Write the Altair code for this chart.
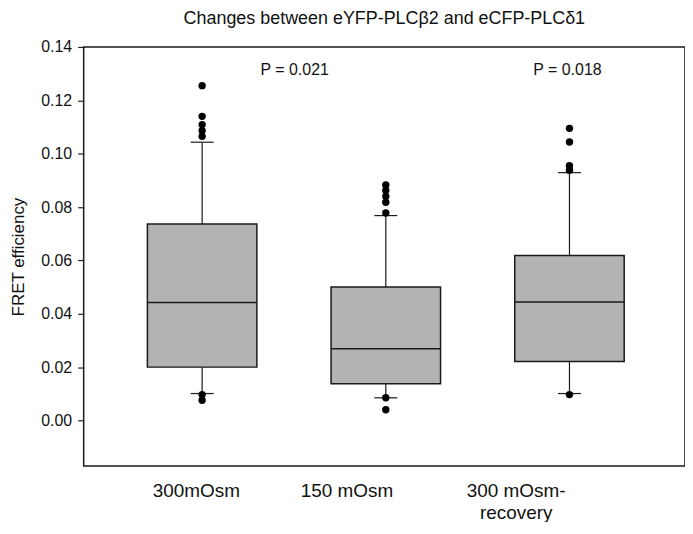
import altair as alt
import pandas as pd

# ---- data ----
categories = ["300mOsm", "150 mOsm", "300 mOsm-recovery"]
label_lines = [["300mOsm"], ["150 mOsm"], ["300 mOsm-", "recovery"]]
positions = [1, 2, 3]
lower_whisker = [0.0101, 0.0085, 0.0101]
q1 = [0.0200, 0.0138, 0.0221]
median = [0.0442, 0.0269, 0.0444]
q3 = [0.0736, 0.0500, 0.0618]
upper_whisker = [0.1043, 0.0768, 0.0929]

outlier_group = [1, 1, 1, 1, 1, 1, 1,
                 2, 2, 2, 2, 2, 2, 2,
                 3, 3, 3, 3, 3]
outlier_value = [0.1255, 0.1140, 0.1109, 0.1086, 0.1065, 0.0097, 0.0076,
                 0.0883, 0.0862, 0.0840, 0.0818, 0.0778, 0.0085, 0.0040,
                 0.1095, 0.1044, 0.0955, 0.0938, 0.0097]

p_text = ["P = 0.021", "P = 0.018"]
p_pos = [1.504, 2.989]
p_y = [0.1315, 0.1315]

label_pos = [0.966, 1.786, 2.707]
y_ticks = [0.0, 0.02, 0.04, 0.06, 0.08, 0.10, 0.12, 0.14]

# ---- layout constants ----
X_DOMAIN = [0.355, 3.629]
Y_DOMAIN = [-0.0171, 0.14]
HALF = 0.298
CAP = 0.0625
FONT = "Liberation Sans"
INK = "#1a1a1a"

box_df = pd.DataFrame({
    "category": categories, "pos": positions, "low": lower_whisker,
    "q1": q1, "median": median, "q3": q3, "high": upper_whisker,
})
out_df = pd.DataFrame({"pos": outlier_group, "value": outlier_value})
p_df = pd.DataFrame({"pos": p_pos, "y": p_y, "text": p_text})


def js_label(lines):
    if len(lines) == 1:
        return "'" + lines[0] + "'"
    return "[" + ", ".join("'" + s + "'" for s in lines) + "]"


label_expr = ("datum.value < 1.3 ? " + js_label(label_lines[0]) +
              " : datum.value < 2.3 ? " + js_label(label_lines[1]) +
              " : " + js_label(label_lines[2]))

xscale = alt.Scale(domain=X_DOMAIN, nice=False, zero=False)
yscale = alt.Scale(domain=Y_DOMAIN, nice=False, zero=False)

x_axis = alt.Axis(values=label_pos, labelExpr=label_expr, ticks=False,
                  domain=False, grid=False, title=None, labelFontSize=19,
                  labelFont=FONT, labelColor="#111", labelPadding=16,
                  labelLineHeight=22, labelFlush=False, labelOverlap=False,
                  labelBaseline="top")
y_axis = alt.Axis(values=y_ticks, format=".2f", grid=False, domain=False,
                  tickSize=6, tickColor=INK, tickWidth=1.2,
                  labelFontSize=16, labelFont=FONT, labelColor="#111",
                  labelPadding=6, title="FRET efficiency", titleFont=FONT,
                  titleFontSize=17, titleFontWeight="normal",
                  titleColor="#111", titlePadding=13)

base = alt.Chart(box_df)

whisker = base.mark_rule(color=INK, strokeWidth=1.2).encode(
    x=alt.X("pos:Q", scale=xscale, axis=x_axis),
    y=alt.Y("low:Q", scale=yscale, axis=y_axis),
    y2="high:Q",
)

caps_low = base.transform_calculate(
    xa=f"datum.pos - {CAP}", xb=f"datum.pos + {CAP}"
).mark_rule(color=INK, strokeWidth=1.2).encode(
    x=alt.X("xa:Q", scale=xscale), x2="xb:Q",
    y=alt.Y("low:Q", scale=yscale),
)
caps_high = base.transform_calculate(
    xa=f"datum.pos - {CAP}", xb=f"datum.pos + {CAP}"
).mark_rule(color=INK, strokeWidth=1.2).encode(
    x=alt.X("xa:Q", scale=xscale), x2="xb:Q",
    y=alt.Y("high:Q", scale=yscale),
)

box = base.transform_calculate(
    xa=f"datum.pos - {HALF}", xb=f"datum.pos + {HALF}"
).mark_rect(fill="#b3b3b3", stroke=INK, strokeWidth=1.5).encode(
    x=alt.X("xa:Q", scale=xscale), x2="xb:Q",
    y=alt.Y("q1:Q", scale=yscale), y2="q3:Q",
)

med = base.transform_calculate(
    xa=f"datum.pos - {HALF}", xb=f"datum.pos + {HALF}"
).mark_rule(color=INK, strokeWidth=1.5).encode(
    x=alt.X("xa:Q", scale=xscale), x2="xb:Q",
    y=alt.Y("median:Q", scale=yscale),
)

points = alt.Chart(out_df).mark_circle(size=55, color="black", opacity=1).encode(
    x=alt.X("pos:Q", scale=xscale),
    y=alt.Y("value:Q", scale=yscale),
)

ptext = alt.Chart(p_df).mark_text(font=FONT, fontSize=16, color="#111").encode(
    x=alt.X("pos:Q", scale=xscale),
    y=alt.Y("y:Q", scale=yscale),
    text="text:N",
)

chart = alt.layer(whisker, caps_low, caps_high, box, med, points, ptext).properties(
    width=604,
    height=421,
    title=alt.TitleParams(
        "Changes between eYFP-PLCβ2 and eCFP-PLCδ1",
        font=FONT, fontSize=18, fontWeight="normal", color="#111",
        anchor="middle", offset=11,
    ),
    autosize=alt.AutoSizeParams(type="none"),
    padding={"left": 76, "top": 38, "right": 0, "bottom": 55},
).configure(background="white").configure_view(stroke=INK, strokeWidth=1.5)

chart.save("out.html", embed_options={"renderer": "svg", "actions": False})
